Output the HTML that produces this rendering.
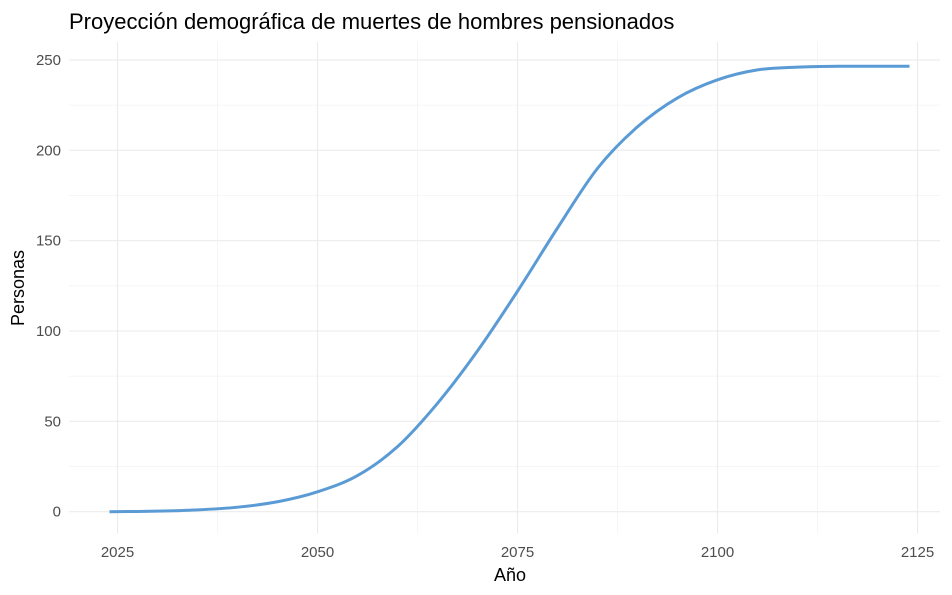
<!DOCTYPE html>
<html><head><meta charset="utf-8"><style>
body{margin:0;background:#fff;font-family:"Liberation Sans",sans-serif}
</style></head><body>
<svg id="c" width="952" height="590" xmlns="http://www.w3.org/2000/svg">
<text x="69" y="29" font-size="22" fill="#000">Proyección demográfica de muertes de hombres pensionados</text>
<g id="grid"></g><g id="axes"></g><g id="series"></g>
<text x="510" y="581" font-size="18" text-anchor="middle" fill="#000">Año</text>
<text transform="translate(24,288) rotate(-90)" font-size="18" text-anchor="middle" fill="#000">Personas</text>
</svg>
<script>
const years=[2024,2030,2035,2040,2045,2050,2055,2060,2065,2070,2075,2080,2085,2090,2095,2100,2105,2110,2115,2120,2124];
const deaths=[0,0.3,1,2.5,5.5,11,20,36,60,89,122,157,190,213,229,239,244.5,246,246.5,246.5,246.5];
const xTicks=[2025,2050,2075,2100,2125];
const yTicks=[0,50,100,150,200,250];
const NS="http://www.w3.org/2000/svg";
const x=v=>117.5+(v-2025)*8;
const y=v=>511.7-v*1.807;
const L=69,R=940,T=42,B=533;
function el(t,a,p){const e=document.createElementNS(NS,t);for(const k in a)e.setAttribute(k,a[k]);document.getElementById(p).appendChild(e);return e;}
for(let i=0;i<yTicks.length;i++){
 const v=yTicks[i];
 const g=el('line',{x1:L,x2:R,y1:y(v),y2:y(v),stroke:'#ebebeb','stroke-width':1.1},'grid');
 
 
 if(i<yTicks.length-1){const m=el('line',{x1:L,x2:R,y1:y(v+25),y2:y(v+25),stroke:'#f3f3f3','stroke-width':0.8},'grid');
 
 }
 const t=el('text',{x:61,y:y(v)+5,'font-size':15,fill:'#4d4d4d','text-anchor':'end'},'axes');t.textContent=v;
 
 
}
for(let i=0;i<xTicks.length;i++){
 const v=xTicks[i];
 const g=el('line',{x1:x(v),x2:x(v),y1:T,y2:B,stroke:'#ebebeb','stroke-width':1.1},'grid');
 
 
 if(i<xTicks.length-1){const m=el('line',{x1:x(v+12.5),x2:x(v+12.5),y1:T,y2:B,stroke:'#f3f3f3','stroke-width':0.8},'grid');
 
 }
 const t=el('text',{x:x(v),y:557,'font-size':15,fill:'#4d4d4d','text-anchor':'middle'},'axes');t.textContent=v;
 
 
}
const pts=years.map((yr,i)=>[x(yr),y(deaths[i])]);
let d='M'+pts[0][0]+','+pts[0][1];
for(let i=0;i<pts.length-1;i++){
 const p0=pts[Math.max(0,i-1)],p1=pts[i],p2=pts[i+1],p3=pts[Math.min(pts.length-1,i+2)];
 const c1=[p1[0]+(p2[0]-p0[0])/6,p1[1]+(p2[1]-p0[1])/6],c2=[p2[0]-(p3[0]-p1[0])/6,p2[1]-(p3[1]-p1[1])/6];
 d+=` C${c1[0]},${c1[1]} ${c2[0]},${c2[1]} ${p2[0]},${p2[1]}`;
}
const ln=el('path',{d:d,fill:'none',stroke:'#5b9bd5','stroke-width':3,'stroke-linejoin':'round'},'series');


</script>
</body></html>
